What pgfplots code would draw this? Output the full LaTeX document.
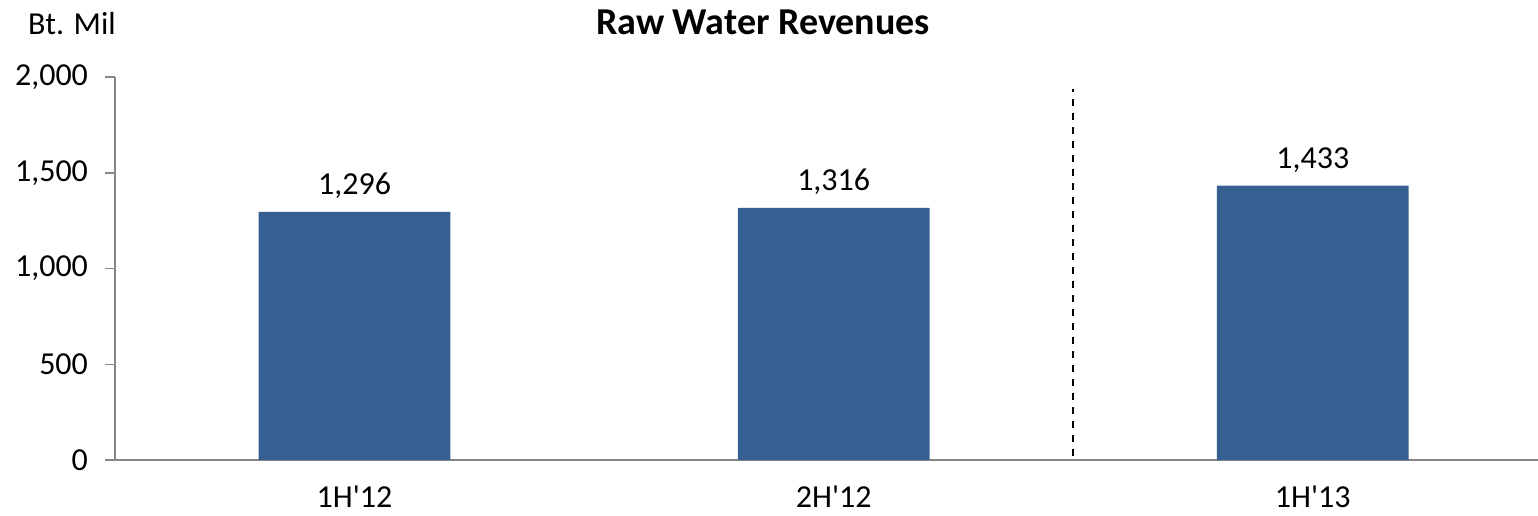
\documentclass[border=0pt]{standalone}
\usepackage{fontspec}
\setmainfont{Carlito}[Ligatures=TeXOff]
\usepackage{pgfplots}
\pgfplotsset{compat=1.18}
\definecolor{barblue}{HTML}{366092}
\definecolor{axgray}{HTML}{868686}
\begin{document}
\begin{tikzpicture}
\begin{axis}[
  scale only axis,
  width=711.5pt, height=191.5pt,
  xmin=-0.5, xmax=2.47,
  ymin=0, ymax=2000,
  ytick={0,500,1000,1500,2000},
  xtick={0,1,2},
  xticklabels={1H'12,2H'12,1H'13},
  axis x line*=bottom,
  axis y line*=left,
  axis line style={draw=axgray, line width=0.75pt},
  y axis line style={-},
  x axis line style={-},
  major tick length=5pt,
  ytick style={draw=axgray, line width=0.75pt},
  xtick style={draw=none},
  tick align=outside,
  /pgf/number format/assume math mode=true,
  /pgf/number format/1000 sep={,},
  ticklabel style={font=\fontsize{16}{19}\selectfont, text=black},
  yticklabel style={xshift=-5pt},
  xticklabel style={yshift=-4.5pt},
  clip=false,
]
\addplot[ybar, bar width=0.4, fill=barblue, draw=none,
  nodes near coords,
  every node near coord/.append style={font=\fontsize{16}{19}\selectfont, text=black, yshift=3pt},
] coordinates {(0,1296) (1,1316) (2,1433)};
\addplot[black, line width=1pt, dash pattern=on 3.5pt off 3.5pt] coordinates {(1.5,20) (1.5,1935)};
\end{axis}
\node at (-21.5pt,218pt) {\fontsize{16}{19}\selectfont Bt. Mil};
\node at (324pt,219pt) {\fontsize{19}{23}\selectfont\bfseries Raw Water Revenues};
\pgfresetboundingbox
\useasboundingbox (-57.5pt,-27.5pt) rectangle (711.5pt,230pt);
\end{tikzpicture}
\end{document}
